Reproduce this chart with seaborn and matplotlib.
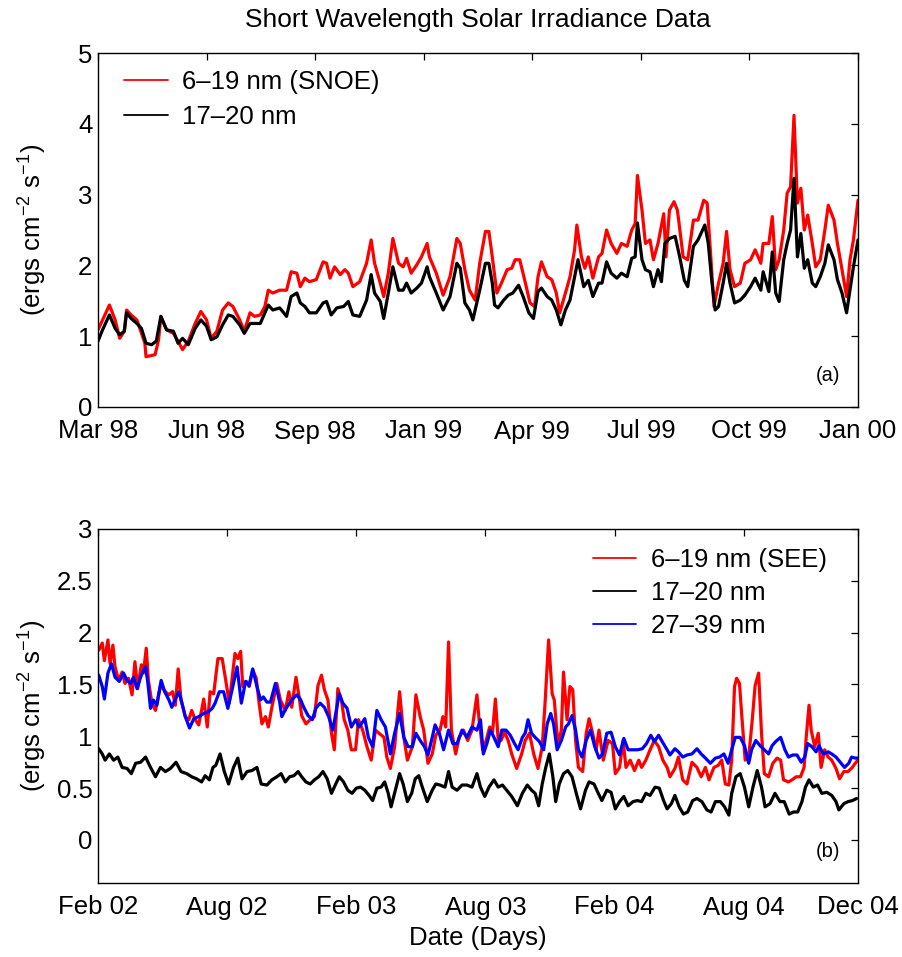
import numpy as np
import pandas as pd
import matplotlib
matplotlib.use("Agg")
import matplotlib.pyplot as plt
import seaborn as sns

# ---------------- data ----------------
# Panel (a): day offset from the start of the axis, irradiance
snoe_days = [0,4,10,15,19,23,25,29,34,36,41,42,50,53,55,60,66,70,74,79,85,90,95,99,104,109,114,118,124,128,
             133,137,142,146,149,153,159,165,169,174,177,181,185,191,197,200,203,207,212,216,219,223,229,235,239,242,247,250,254,258,
             263,267,270,274,279,283,288,290,296,302,308,314,317,321,325,330,334,339,342,345,349,353,358,362,365,369,374,378,382,385,
             388,393,397,401,404,409,413,417,419,423,426,429,433,438,441,445,449,454,458,463,467,470,472,476,479,483,486,490,495,497,
             500,504,507,512,516,521,525,530,533,536,539,543,547,550,553,557,562,566,571,575,580,582,587,590,593,596,600,603,606,609,
             612,615,618,621,625,628,632,636,639,644,647,651,655,658,661,665]
snoe_vals = [1.09,1.23,1.44,1.23,0.97,1.07,1.37,1.30,1.23,1.14,0.90,0.71,0.74,0.95,1.28,1.09,1.04,0.93,0.81,0.93,
             1.18,1.35,1.23,0.97,1.07,1.37,1.47,1.42,1.23,1.07,1.33,1.28,1.30,1.42,1.65,1.61,1.65,1.65,1.91,1.89,
             1.70,1.82,1.77,1.80,2.05,2.03,1.82,1.98,1.87,1.94,1.89,1.70,1.77,2.03,2.36,2.03,1.75,1.56,1.89,2.38,
             2.03,1.98,2.10,1.89,2.01,2.12,2.31,2.12,1.89,1.58,1.84,2.38,2.31,1.94,1.65,1.51,2.03,2.48,2.48,2.12,
             1.61,1.75,1.94,1.96,2.08,2.08,1.75,1.47,1.42,1.84,2.05,1.84,1.80,1.61,1.33,1.61,1.84,2.22,2.57,2.12,
             1.96,2.12,1.82,2.12,2.17,2.50,2.31,2.17,2.31,2.27,2.50,2.59,3.27,2.78,2.31,2.36,2.08,2.31,2.73,2.12,
             2.78,2.90,2.78,2.12,2.08,2.64,2.64,2.92,2.88,2.17,1.42,1.75,2.03,2.48,1.94,1.70,1.75,2.03,2.08,2.22,
             2.03,2.31,2.31,2.69,1.94,2.08,2.50,3.02,3.11,4.12,2.88,3.09,2.50,2.71,2.31,1.98,2.08,2.50,2.85,2.64,
             2.31,1.94,1.56,2.08,2.36,2.92]

a_1720_days = [0,4,10,15,19,23,25,29,34,38,42,47,51,55,60,66,70,74,79,85,90,95,99,104,109,114,118,124,128,133,
               137,142,146,149,153,159,165,169,174,177,181,185,191,197,200,204,209,215,219,223,229,235,239,242,247,250,254,258,263,267,
               270,274,279,283,288,290,296,302,308,314,317,321,325,328,334,339,342,345,347,350,355,359,363,368,372,377,381,385,388,393,
               397,401,405,409,413,417,420,425,429,433,438,441,445,449,454,458,463,467,470,472,476,479,483,486,490,493,496,500,505,509,
               513,516,521,525,531,534,537,540,543,547,550,553,557,562,566,571,575,580,582,587,590,593,596,600,603,606,609,612,615,618,
               621,625,628,632,636,639,644,647,651,655,658,661,665]
a_1720_vals = [0.93,1.09,1.30,1.11,1.02,1.07,1.33,1.25,1.18,1.11,0.90,0.88,0.93,1.28,1.09,1.07,0.90,0.97,0.88,1.11,
               1.23,1.14,0.95,0.99,1.16,1.30,1.28,1.16,1.04,1.18,1.18,1.18,1.33,1.44,1.37,1.40,1.28,1.56,1.61,1.47,
               1.42,1.33,1.33,1.47,1.49,1.30,1.40,1.42,1.49,1.30,1.28,1.51,1.87,1.61,1.49,1.25,1.61,1.98,1.65,1.65,
               1.75,1.61,1.68,1.75,1.98,1.84,1.61,1.37,1.56,2.03,1.96,1.47,1.37,1.23,1.65,2.03,2.03,1.75,1.44,1.40,
               1.51,1.58,1.61,1.72,1.56,1.33,1.25,1.63,1.68,1.56,1.51,1.37,1.16,1.37,1.51,1.84,2.08,1.70,1.79,1.56,
               1.75,1.75,2.05,1.89,1.82,1.89,1.84,2.10,2.12,2.60,2.08,1.94,1.91,1.70,1.94,1.77,2.31,2.38,2.41,2.12,
               1.79,1.70,2.27,2.36,2.57,2.31,1.79,1.37,1.42,1.75,2.03,1.75,1.47,1.51,1.58,1.70,1.82,1.65,1.91,1.63,
               2.19,1.61,1.49,2.08,2.31,2.50,3.23,2.12,2.45,1.96,2.08,1.75,1.70,1.84,2.03,2.29,2.08,1.80,1.61,1.33,
               1.65,1.98,2.36]

# Panel (b): (day offset, irradiance) pairs per series
see_619 = [(1,1.83),(6,1.90),(9,1.73),(14,1.93),(17,1.70),(21,1.88),(24,1.67),(29,1.54),(34,1.62),(38,1.51),(43,1.56),(48,1.40),
           (52,1.72),(56,1.46),(61,1.69),(64,1.61),(68,1.85),(71,1.54),(76,1.32),(81,1.25),(88,1.49),(95,1.43),(100,1.40),(105,1.43),
           (109,1.30),(113,1.65),(117,1.35),(123,1.19),(128,1.16),(132,1.25),(137,1.16),(142,1.11),(149,1.36),(154,1.09),(158,1.43),
           (163,1.41),(169,1.75),(175,1.75),(180,1.54),(185,1.32),(189,1.56),(193,1.80),(197,1.75),(201,1.82),(204,1.48),(209,1.53),
           (213,1.48),(218,1.64),(223,1.56),(227,1.32),(231,1.12),(236,1.19),(240,1.09),(245,1.28),(252,1.51),(257,1.35),(264,1.25),
           (269,1.43),(273,1.28),(279,1.57),(283,1.40),(287,1.20),(293,1.12),(299,1.16),(305,1.19),(310,1.49),(315,1.59),(319,1.45),
           (324,1.35),(329,1.03),(333,0.87),(338,1.46),(343,1.35),(347,1.16),(352,1.06),(357,0.87),(363,0.87),(367,1.16),(373,1.06),
           (379,0.90),(385,0.77),(391,1.06),(396,1.03),(403,0.99),(407,0.80),(412,0.69),(418,0.90),(425,1.43),(431,0.99),(436,0.77),
           (443,0.90),(448,1.40),(454,1.19),(459,1.06),(465,0.74),(471,0.83),(476,1.01),(482,1.06),(486,1.19),(490,1.09),(494,1.91),
           (498,1.06),(504,0.83),(509,0.99),(515,1.06),(521,0.96),(527,1.06),
           (534,1.40),(537,1.16),(542,0.87),(547,0.96),(552,1.09),(556,1.04),(560,1.36),(564,0.96),(568,0.96),(573,1.04),(578,0.96),
           (583,0.83),(590,0.69),(597,0.83),(602,0.96),(608,1.03),(614,0.83),(620,0.69),(626,0.90),(630,1.32),(635,1.93),(640,1.41),
           (643,1.35),(648,0.93),(653,1.06),(656,1.62),(661,1.16),(665,1.48),(669,1.45),(673,0.96),(677,0.70),(683,0.66),(688,1.03),
           (692,1.17),(697,1.03),(702,0.87),(706,1.06),(712,0.77),(719,0.96),(725,0.93),(729,0.64),(735,0.70),(740,0.96),(744,0.70),
           (750,0.77),(756,0.67),(762,0.77),(766,0.70),(772,0.77),(778,0.87),(784,0.96),(790,0.90),(796,0.77),
           (802,0.70),(806,0.61),(813,0.69),(818,0.80),(824,0.58),(830,0.54),(837,0.75),(844,0.70),(850,0.61),(856,0.70),(861,0.58),
           (868,0.70),(874,0.72),(879,0.77),(884,0.54),(889,0.53),(893,0.77),(897,1.48),(900,1.56),(904,1.51),(907,1.22),(912,0.77),
           (917,0.80),(922,1.16),(926,1.49),(931,1.61),(935,1.03),(939,0.64),(945,0.61),(951,0.74),(957,0.79),(962,0.77),(966,0.58),
           (973,0.56),(978,0.58),(984,0.61),(990,0.61),(995,0.70),(998,0.99),(1002,1.30),(1005,1.06),(1010,0.90),(1015,1.03),
           (1019,0.70),(1024,0.87),(1029,0.80),(1034,0.77),(1040,0.69),(1045,0.59),(1051,0.66),(1057,0.66),(1063,0.70),(1067,0.74),
           (1071,0.77)]

b_1720 = [(1,0.88),(6,0.83),(10,0.77),(16,0.83),(22,0.77),(28,0.80),(34,0.70),(41,0.69),(47,0.64),(53,0.74),(60,0.75),(67,0.80),
          (74,0.70),(81,0.61),(88,0.70),(95,0.66),(102,0.69),(110,0.75),(117,0.66),(125,0.64),(132,0.61),(139,0.59),(146,0.56),
          (151,0.62),(157,0.58),(162,0.70),(166,0.72),(172,0.83),(178,0.66),(184,0.54),(191,0.70),(197,0.79),(203,0.59),(210,0.66),
          (217,0.67),(224,0.70),(230,0.54),(238,0.53),(245,0.58),(252,0.61),(258,0.64),(264,0.56),(270,0.61),
          (276,0.62),(282,0.66),(287,0.61),(293,0.56),(299,0.54),(305,0.58),(311,0.61),(317,0.66),(323,0.59),(329,0.45),(335,0.54),
          (340,0.61),(346,0.56),(352,0.48),(358,0.45),(364,0.50),(370,0.51),(376,0.48),(382,0.43),(387,0.38),(393,0.50),(399,0.51),
          (404,0.56),(409,0.45),(413,0.32),(419,0.48),(425,0.64),(430,0.54),(436,0.37),(442,0.45),(447,0.59),(452,0.62),(457,0.51),
          (464,0.37),(471,0.48),(476,0.54),(482,0.53),(489,0.51),(494,0.66),(499,0.51),(506,0.48),(513,0.53),(520,0.53),(527,0.51),
          (534,0.64),(539,0.51),(545,0.42),(551,0.51),(558,0.58),(564,0.51),(570,0.53),(576,0.48),(583,0.42),(591,0.33),(598,0.45),
          (605,0.53),(611,0.48),(616,0.45),(621,0.33),(626,0.54),(631,0.70),(636,0.83),(641,0.61),(645,0.37),(650,0.54),(656,0.64),
          (662,0.67),(668,0.61),(674,0.45),(680,0.30),(687,0.48),(692,0.56),(699,0.54),(705,0.45),(710,0.38),(717,0.48),(723,0.46),
          (729,0.30),(735,0.37),(741,0.42),(747,0.33),(754,0.37),(760,0.38),(766,0.37),(772,0.45),(778,0.43),(785,0.51),(791,0.50),
          (797,0.38),
          (802,0.30),(808,0.35),(813,0.43),(819,0.32),(825,0.25),(831,0.27),(838,0.38),(844,0.40),(851,0.37),(858,0.29),(864,0.27),
          (870,0.37),(877,0.37),(883,0.32),(889,0.24),(893,0.45),(899,0.61),(905,0.64),(911,0.51),(917,0.32),(923,0.51),(929,0.67),
          (935,0.51),(940,0.32),(947,0.35),(954,0.45),(961,0.37),(967,0.37),(974,0.25),(980,0.27),(986,0.27),(992,0.37),(997,0.51),
          (1002,0.58),(1008,0.51),(1014,0.53),(1020,0.45),(1027,0.46),(1034,0.43),(1040,0.37),(1044,0.29),(1051,0.35),(1057,0.37),
          (1063,0.38),(1069,0.40)]

b_2739 = [(1,1.59),(6,1.48),(9,1.36),(14,1.61),(19,1.70),(24,1.57),(30,1.53),(36,1.61),(41,1.54),(46,1.51),(50,1.57),(55,1.46),
          (61,1.59),(67,1.67),(70,1.53),(74,1.27),(78,1.35),(83,1.30),(89,1.54),(94,1.43),(100,1.35),(104,1.28),(109,1.36),
          (114,1.43),(118,1.33),(123,1.19),(129,1.08),(135,1.17),(142,1.19),(149,1.22),(156,1.24),(161,1.27),(165,1.32),(171,1.43),
          (177,1.43),(183,1.27),(189,1.45),(196,1.67),(202,1.32),(208,1.53),(213,1.49),(218,1.65),(224,1.48),(229,1.35),(233,1.38),
          (238,1.33),(243,1.33),(250,1.51),(256,1.33),(259,1.19),(265,1.27),(270,1.32),
          (274,1.36),(280,1.40),(285,1.36),(290,1.28),(296,1.20),(302,1.16),(307,1.27),(313,1.32),(319,1.28),(325,1.19),(331,1.06),
          (335,1.22),(340,1.41),(345,1.32),(351,1.27),(357,1.09),(363,1.16),(368,1.09),(376,1.17),(381,0.99),(387,0.90),(393,1.25),
          (399,1.16),(405,1.09),(412,0.83),(418,1.03),(425,1.22),(431,0.99),(437,0.90),(443,0.90),(448,1.03),(454,0.96),(460,0.90),
          (465,0.82),(471,0.99),(475,1.11),(481,1.03),(487,0.87),(494,1.06),(500,0.93),(506,0.93),(513,1.06),(520,0.99),(527,1.09),
          (534,1.06),(539,1.16),(543,0.83),(548,0.93),(553,1.06),(558,0.99),(564,0.90),(569,1.06),(575,1.06),(581,1.01),(587,0.93),
          (592,0.87),(598,0.99),(602,1.03),(606,1.16),(611,1.03),(616,0.99),(622,0.95),(628,0.87),(633,1.12),(638,1.22),(642,1.12),
          (647,0.87),(653,0.96),(659,1.09),(663,1.12),(668,1.20),(673,1.06),(677,0.87),(682,0.80),(688,0.96),(694,1.06),(700,0.90),
          (706,0.79),(711,0.83),(717,1.03),(723,1.04),(729,0.90),(735,0.82),(741,0.98),(747,0.87),(753,0.87),(760,0.87),(767,0.88),
          (773,0.93),(779,1.01),(784,0.95),(790,1.01),(795,0.95),
          (802,0.87),(806,0.82),(813,0.88),(818,0.85),(824,0.80),(830,0.82),(837,0.83),(844,0.88),(850,0.83),(856,0.79),(863,0.74),
          (870,0.79),(876,0.80),(882,0.83),(888,0.74),(893,0.87),(898,0.99),(905,0.99),(911,0.91),(917,0.74),(921,0.87),(927,0.96),
          (933,0.91),(939,0.87),(945,0.83),(950,0.91),(955,0.95),(962,0.99),(968,0.87),(973,0.80),(979,0.82),(985,0.82),(991,0.75),
          (996,0.80),(1000,0.93),(1006,0.90),(1012,0.85),(1016,0.91),(1022,0.83),(1029,0.85),(1034,0.83),(1040,0.80),(1046,0.75),
          (1052,0.70),(1058,0.74),(1062,0.80),(1067,0.79),(1071,0.79)]

# axis ticks (labels as printed on the reference)
a_tick_days = [0, 95, 190, 285, 380, 475, 570, 665]
a_tick_labels = ["Mar 98", "Jun 98", "Sep 98", "Jan 99", "Apr 99", "Jul 99", "Oct 99", "Jan 00"]
b_tick_days = [0, 182, 364, 546, 728, 910, 1071]
b_tick_labels = ["Feb 02", "Aug 02", "Feb 03", "Aug 03", "Feb 04", "Aug 04", "Dec 04"]

# ---------------- style ----------------
sns.set_theme(style="white")
plt.rcParams['font.family'] = ['Liberation Sans', 'DejaVu Sans']
plt.rcParams['mathtext.fontset'] = 'custom'
plt.rcParams['mathtext.rm'] = 'Liberation Sans'
plt.rcParams['mathtext.it'] = 'Liberation Sans:italic'
plt.rcParams['mathtext.default'] = 'regular'
plt.rcParams['text.color'] = 'black'
plt.rcParams['axes.labelcolor'] = 'black'
plt.rcParams['xtick.color'] = 'black'
plt.rcParams['ytick.color'] = 'black'

FS = 18.5
LW = 2.3
RED, BLACK, BLUE = '#ff0000', '#000000', '#0000ff'

fig = plt.figure(figsize=(9.02, 9.57), dpi=100)
ax1 = fig.add_axes([98/902, 1 - 407/957, 760/902, 354/957])
ax2 = fig.add_axes([98/902, 1 - 883/957, 760/902, 354/957])

def pairs_df(p):
    return pd.DataFrame(p, columns=["day", "val"])

# ---- panel (a)
da_r = pd.DataFrame({"day": snoe_days, "val": snoe_vals})
da_k = pd.DataFrame({"day": a_1720_days, "val": a_1720_vals})
sns.lineplot(data=da_r, x="day", y="val", ax=ax1, color=RED, linewidth=LW, label="6\u201319 nm (SNOE)")
sns.lineplot(data=da_k, x="day", y="val", ax=ax1, color=BLACK, linewidth=LW, label="17\u201320 nm")

# ---- panel (b)
sns.lineplot(data=pairs_df(see_619), x="day", y="val", ax=ax2, color=RED, linewidth=LW, label="6\u201319 nm (SEE)")
sns.lineplot(data=pairs_df(b_1720), x="day", y="val", ax=ax2, color=BLACK, linewidth=LW, label="17\u201320 nm")
sns.lineplot(data=pairs_df(b_2739), x="day", y="val", ax=ax2, color=BLUE, linewidth=LW, label="27\u201339 nm")

ylab = "(ergs cm$^{\u22122}$ s$^{\u22121}$)"
for ax in (ax1, ax2):
    for s in ax.spines.values():
        s.set_color('black')
        s.set_linewidth(1.0)
    ax.tick_params(direction='in', length=5, width=0.9, top=True, right=True,
                   labelsize=FS, colors='black')
    ax.tick_params(axis='x', pad=9)
    ax.tick_params(axis='y', pad=4)
    ax.set_ylabel(ylab, fontsize=FS, color='black')
    ax.yaxis.set_label_coords(-0.064, 0.5)

ax1.set_xlim(0, 665)
ax1.set_ylim(0, 5)
ax1.set_xticks(a_tick_days)
ax1.set_xticklabels(a_tick_labels)
ax1.set_yticks([0, 1, 2, 3, 4, 5])
ax1.set_yticklabels(["0", "1", "2", "3", "4", "5"])
ax1.set_xlabel("")
ax1.set_title("Short Wavelength Solar Irradiance Data", fontsize=19, pad=19, color='black')
ax1.text(0.9605, 0.09, "(a)", transform=ax1.transAxes, fontsize=14.5, ha='center', va='center')

ax2.set_xlim(0, 1071)
ax2.set_ylim(-0.415, 3)
ax2.set_xticks(b_tick_days)
ax2.set_xticklabels(b_tick_labels)
ax2.set_yticks([0, 0.5, 1, 1.5, 2, 2.5, 3])
ax2.set_yticklabels(["0", "0.5", "1", "1.5", "2", "2.5", "3"])
ax2.set_xlabel("Date (Days)", fontsize=FS, labelpad=5, color='black')
ax2.text(0.9605, 0.0876, "(b)", transform=ax2.transAxes, fontsize=14.5, ha='center', va='center')

leg1 = ax1.legend(loc='upper left', bbox_to_anchor=(0.034, 0.952), frameon=False, fontsize=FS,
                  borderpad=0, borderaxespad=0, handlelength=1.7, handletextpad=0.58, labelspacing=0.42)
leg2 = ax2.legend(loc='upper left', bbox_to_anchor=(0.651, 0.945), frameon=False, fontsize=FS,
                  borderpad=0, borderaxespad=0, handlelength=1.7, handletextpad=0.58, labelspacing=0.35)
for leg in (leg1, leg2):
    for ln in leg.get_lines():
        ln.set_linewidth(1.3)
    for t in leg.get_texts():
        t.set_color('black')

fig.savefig("out.png", dpi=100)
